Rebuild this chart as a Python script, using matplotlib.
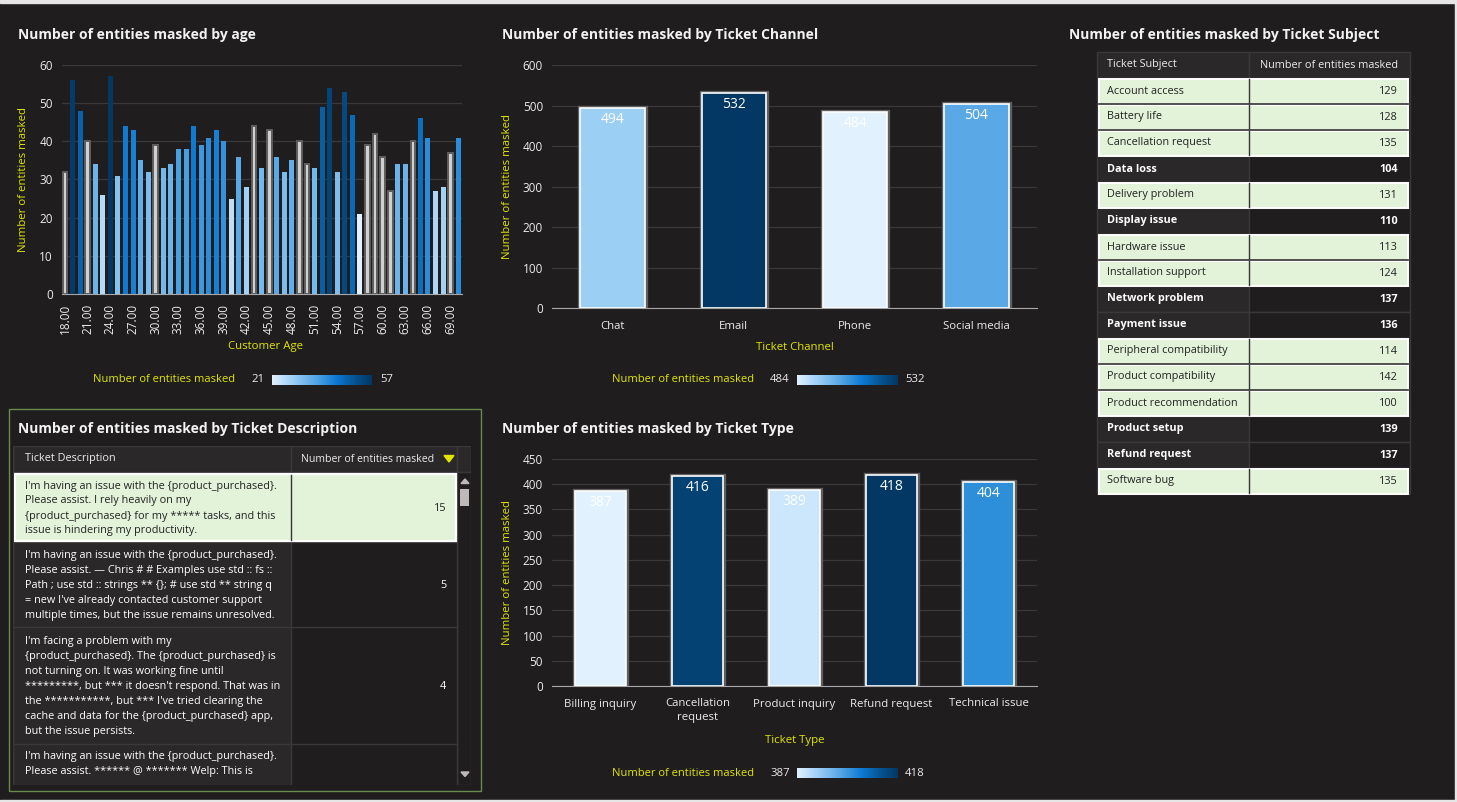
import numpy as np
import matplotlib.pyplot as plt
from matplotlib.colors import LinearSegmentedColormap, Normalize
from matplotlib.patches import Rectangle, Polygon
import matplotlib.patheffects as pe

plt.rcParams['font.family'] = ['Open Sans', 'Noto Sans', 'DejaVu Sans']

# ---- data ----
ages = list(range(18, 71))
age_counts = [32, 56, 48, 40, 34, 26, 57, 31, 44, 43, 35, 32, 39, 33, 34, 38, 38, 44,
              39, 41, 43, 40, 25, 36, 28, 44, 33, 43, 36, 32, 35, 40, 34, 33, 49, 54,
              32, 53, 47, 21, 39, 42, 36, 27, 34, 34, 40, 46, 41, 27, 28, 37, 41]
grey_ages = [18, 21, 30, 43, 45, 49, 50, 58, 59, 60, 61, 64, 69]

channels = ['Chat', 'Email', 'Phone', 'Social media']
channel_counts = [494, 532, 484, 504]

types = ['Billing inquiry', 'Cancellation\nrequest', 'Product inquiry', 'Refund request', 'Technical issue']
type_counts = [387, 416, 389, 418, 404]

subjects = ['Account access', 'Battery life', 'Cancellation request', 'Data loss',
            'Delivery problem', 'Display issue', 'Hardware issue', 'Installation support',
            'Network problem', 'Payment issue', 'Peripheral compatibility',
            'Product compatibility', 'Product recommendation', 'Product setup',
            'Refund request', 'Software bug']
subject_counts = [129, 128, 135, 104, 131, 110, 113, 124, 137, 136, 114, 142, 100, 139, 137, 135]
selected_subjects = ['Account access', 'Battery life', 'Cancellation request', 'Delivery problem',
                     'Hardware issue', 'Installation support', 'Peripheral compatibility',
                     'Product compatibility', 'Product recommendation', 'Software bug']

descriptions = [
    "I'm having an issue with the {product_purchased}.\nPlease assist. I rely heavily on my\n"
    "{product_purchased} for my ***** tasks, and this\nissue is hindering my productivity.",
    "I'm having an issue with the {product_purchased}.\nPlease assist. \u2014 Chris # # Examples use std :: fs ::\n"
    "Path ; use std :: strings ** {}; # use std ** string q\n= new I've already contacted customer support\n"
    "multiple times, but the issue remains unresolved.",
    "I'm facing a problem with my\n{product_purchased}. The {product_purchased} is\n"
    "not turning on. It was working fine until\n*********, but *** it doesn't respond. That was in\n"
    "the ***********, but *** I've tried clearing the\ncache and data for the {product_purchased} app,\n"
    "but the issue persists.",
    "I'm having an issue with the {product_purchased}.\nPlease assist. ****** @ ******* Welp: This is\n"
    "...",
]
description_counts = [15, 5, 4, None]
selected_descriptions = [0]

# ---- style ----
W, H = 1457, 802
BG = '#1f1d1e'
CELL = '#2a2829'
LINE = '#3a3839'
GREEN = '#e3f3da'
YEL = '#e2e600'
TXT = '#ececec'
FS = 7.8
cmap = LinearSegmentedColormap.from_list(
    'blues', [(0, '#e1f1fe'), (0.2, '#9fd0f5'), (0.45, '#4fa3e4'), (0.65, '#0b78d0'),
              (0.85, '#05508a'), (1, '#023863')])

fig = plt.figure(figsize=(W / 100, H / 100), dpi=100, facecolor=BG)


def px_axes(x0, y0, x1, y1):
    return fig.add_axes([x0 / W, 1 - y1 / H, (x1 - x0) / W, (y1 - y0) / H])


over = px_axes(0, 0, W, H)
over.set_xlim(0, W)
over.set_ylim(H, 0)
over.axis('off')
over.add_patch(Rectangle((0, 0), W, 3, color='#e6e6e6'))
over.add_patch(Rectangle((0, H - 2), W, 2, color='#e6e6e6'))
over.add_patch(Rectangle((W - 2, 0), 2, H, color='#e6e6e6'))


def title(x, y, s):
    over.text(x, y, s, color='#f2f2f2', fontsize=10, fontweight='bold', va='center')


def style(ax, ymax, step):
    ax.set_facecolor(BG)
    ax.set_ylim(0, ymax)
    ax.set_yticks(np.arange(0, ymax + 1, step))
    ax.grid(axis='y', color=LINE, lw=0.9)
    ax.set_axisbelow(True)
    for s in ['top', 'right', 'left']:
        ax.spines[s].set_visible(False)
    ax.spines['bottom'].set_color('#a8a8a8')
    ax.tick_params(length=0, colors=TXT, labelsize=8.5)
    ax.tick_params(axis='y', pad=6.5)


def labels(ax, xlabel, ylabel, xl, yl_x):
    ax.set_xlabel(xlabel, color=YEL, fontsize=8.2)
    ax.set_ylabel(ylabel, color=YEL, fontsize=8.2)
    ax.xaxis.set_label_coords(*xl)
    ax.xaxis.label.set_va('center')
    ax.yaxis.set_label_coords(yl_x, 0.5)
    ax.yaxis.label.set_va('center')


def colorbar(yc, xr, xmin_c, gx0, gx1, xmax_l, vmin, vmax):
    over.text(xr, yc, 'Number of entities masked', color=YEL, fontsize=8.0, ha='right', va='center')
    over.text(xmin_c, yc, str(vmin), color=TXT, fontsize=8.2, ha='center', va='center')
    over.text(xmax_l, yc, str(vmax), color=TXT, fontsize=8.2, ha='left', va='center')
    g = px_axes(gx0, yc - 5.5, gx1, yc + 5.5)
    g.imshow(np.linspace(0, 1, 256)[None, :], aspect='auto', cmap=cmap)
    g.axis('off')


# ---- age chart ----
title(18, 35, 'Number of entities masked by age')
ax = px_axes(62, 65, 462, 294)
style(ax, 60, 10)
norm = Normalize(min(age_counts), max(age_counts))
for a, v in zip(ages, age_counts):
    if a in grey_ages:
        ax.bar(a, v, width=0.62, color='#d0d0d0', edgecolor='#5e5e5e', linewidth=1.4, zorder=3)
    else:
        ax.bar(a, v, width=0.66, color=cmap(norm(v)), zorder=3)
ax.set_xlim(17.6, 70.5)
ax.set_xticks(ages[::3])
ax.set_xticklabels([f'{a:.2f}' for a in ages[::3]], rotation=90)
ax.tick_params(axis='x', pad=7)
labels(ax, 'Customer Age', 'Number of entities masked', ((266 - 62) / 400, -(347 - 294) / 229), (24 - 62) / 400)
colorbar(380, 235, 258, 272, 372, 380, min(age_counts), max(age_counts))


# ---- category charts ----
def cat_chart(box, cats, vals, ymax, step, width):
    ax = px_axes(*box)
    style(ax, ymax, step)
    norm = Normalize(min(vals), max(vals))
    x = np.arange(len(cats))
    bars = ax.bar(x, vals, width=width, color=[cmap(norm(v)) for v in vals],
                  edgecolor='white', linewidth=1.2, zorder=3)
    for b in bars:
        b.set_path_effects([pe.Stroke(linewidth=3.8, foreground='#5f5f5f'), pe.Normal()])
    for xi, v in zip(x, vals):
        ax.annotate(str(v), (xi, v), xytext=(0, -3), textcoords='offset points',
                    ha='center', va='top', color='white', fontsize=10, zorder=4)
    ax.set_xlim(-0.5, len(cats) - 0.5)
    ax.set_xticks(x)
    ax.set_xticklabels(cats, linespacing=1.3)
    ax.tick_params(axis='x', pad=9, labelsize=8.2)
    return ax


title(502, 35, 'Number of entities masked by Ticket Channel')
ax = cat_chart((552, 65, 1037, 308), channels, channel_counts, 600, 100, 0.53)
labels(ax, 'Ticket Channel', 'Number of entities masked', (0.5, -(347 - 308) / 243), (508 - 552) / 485)
colorbar(380, 754, 780, 797, 897, 905, min(channel_counts), max(channel_counts))

title(502, 429, 'Number of entities masked by Ticket Type')
ax = cat_chart((552, 459, 1037, 686), types, type_counts, 450, 50, 0.52)
labels(ax, 'Ticket Type', 'Number of entities masked', (0.5, -(740 - 686) / 227), (508 - 552) / 485)
colorbar(773, 754, 780, 797, 897, 905, min(type_counts), max(type_counts))

# ---- ticket subject table ----
title(1069, 35, 'Number of entities masked by Ticket Subject')
tx0, tx1, tx2 = 1097, 1249, 1410
ty0, rh = 52, 26
over.add_patch(Rectangle((tx0, ty0), tx1 - tx0, rh, fc=CELL, ec=LINE, lw=1))
over.add_patch(Rectangle((tx1, ty0), tx2 - tx1, rh, fc=CELL, ec=LINE, lw=1))
over.text(1107, ty0 + rh / 2, 'Ticket Subject', color=TXT, fontsize=FS, va='center')
over.text(1398, ty0 + rh / 2, 'Number of entities masked', color=TXT, fontsize=FS, va='center', ha='right')
prev_sel = False
for i, (s, v) in enumerate(zip(subjects, subject_counts)):
    y = ty0 + rh * (i + 1)
    yc = y + rh / 2
    sel = s in selected_subjects
    if sel:
        over.add_patch(Rectangle((tx0, y), tx2 - tx0, rh, fc=CELL, ec=LINE, lw=1))
        over.add_patch(Rectangle((tx0 + 2, y + 0.5), tx2 - tx0 - 4, rh - 1, fc=GREEN, ec='white', lw=1.4, zorder=2))
        over.plot([tx1, tx1], [y + 1, y + rh - 1], color='#333333', lw=1, zorder=3)
        if prev_sel:
            over.plot([tx0 + 2, tx2 - 2], [y, y], color='#333333', lw=1.2, zorder=3)
        over.text(1107, yc, s, color='#222222', fontsize=FS, va='center', zorder=4)
        over.text(1398, yc, str(v), color='#222222', fontsize=FS, va='center', ha='right', zorder=4)
    else:
        over.add_patch(Rectangle((tx0, y), tx1 - tx0, rh, fc=CELL, ec=LINE, lw=1))
        over.add_patch(Rectangle((tx1, y), tx2 - tx1, rh, fc=BG, ec=LINE, lw=1))
        over.text(1107, yc, s, color='white', fontsize=FS, va='center', fontweight='bold')
        over.text(1398, yc, str(v), color='white', fontsize=FS, va='center', ha='right', fontweight='bold')
    prev_sel = sel

# ---- ticket description table ----
over.add_patch(Rectangle((8.5, 408.5), 472, 382, fc='none', ec='#6b8a4b', lw=1))
title(18, 429, 'Number of entities masked by Ticket Description')
dx0, dx1, dx2, dx3 = 13, 291, 457, 471
dy0, dy1 = 446, 785
dt = px_axes(dx0, dy0, dx3, dy1)
dt.set_xlim(dx0, dx3)
dt.set_ylim(dy1, dy0)
dt.axis('off')
dt.add_patch(Rectangle((dx0, dy0), dx1 - dx0, 26, fc=CELL, ec=LINE, lw=1))
dt.add_patch(Rectangle((dx1, dy0), dx2 - dx1, 26, fc=CELL, ec=LINE, lw=1))
dt.add_patch(Rectangle((dx2, dy0), dx3 - dx2, 26, fc=CELL, ec=LINE, lw=1))
dt.text(25, dy0 + 13, 'Ticket Description', color=TXT, fontsize=FS, va='center')
dt.text(301, dy0 + 13, 'Number of entities masked', color=TXT, fontsize=7.6, va='center')
dt.add_patch(Polygon([[444, 455.5], [454, 455.5], [449, 462]], color=YEL))
dt.add_patch(Rectangle((dx2, dy0 + 26), dx3 - dx2, dy1 - dy0 - 26, fc=BG, ec=LINE, lw=1))
dt.add_patch(Polygon([[461, 483.5], [469, 483.5], [465, 479]], color='#bdb9b9'))
dt.add_patch(Rectangle((460, 489), 9, 17, fc='#bdb9b9', ec='none'))
dt.add_patch(Polygon([[461, 772], [469, 772], [465, 776.5]], color='#bdb9b9'))
y = 474
for i, (d, v) in enumerate(zip(descriptions, description_counts)):
    lines = d.split('\n')
    n = len(lines)
    h = 16 * n + 5
    yc = y + h / 2
    if i in selected_descriptions:
        dt.add_patch(Rectangle((dx0 + 2, y), dx2 - dx0 - 3, h - 2, fc=GREEN, ec='white', lw=1.6, zorder=2))
        dt.plot([dx1, dx1], [y + 1, y + h - 3], color='#333333', lw=1, zorder=3)
        fc = '#222222'
    else:
        dt.add_patch(Rectangle((dx0, y - 1), dx1 - dx0, h + 1, fc=CELL, ec=LINE, lw=1))
        dt.add_patch(Rectangle((dx1, y - 1), dx2 - dx1, h + 1, fc=BG, ec=LINE, lw=1))
        fc = 'white'
    for k, ln in enumerate(lines):
        dt.text(25, yc + (k - (n - 1) / 2) * 15, ln, color=fc, fontsize=FS, va='center', zorder=4, clip_on=True)
    if v is not None:
        dt.text(446, yc, str(v), color=fc, fontsize=FS, va='center', ha='right', zorder=4, clip_on=True)
    y += h

fig.savefig('out.png', dpi=100, facecolor=BG)
